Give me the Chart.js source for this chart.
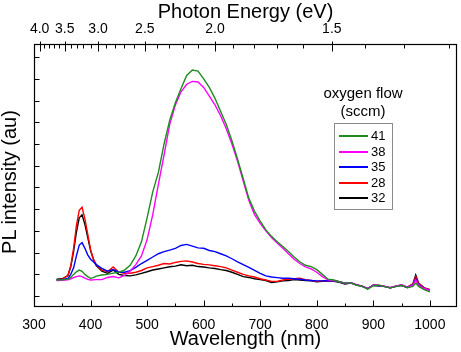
<!DOCTYPE html>
<html>
<head>
<meta charset="utf-8">
<script src="https://cdn.jsdelivr.net/npm/chart.js@4/dist/chart.umd.min.js"></script>
<style>
  body { margin: 0; background: #fff; font-family: 'Liberation Sans', Arial, sans-serif; }
  #wrap { position: relative; width: 461px; height: 352px; }
  #legend { position: absolute; left: 0; top: 0; }
  #ytitle { position: absolute; left: 9px; top: 182px; width: 200px; margin-left: -100px; margin-top: -10px;
    text-align: center; font-size: 20px; line-height: 20px; color: #000; transform: rotate(-90deg); white-space: nowrap; }
  .lg-title { position: absolute; width: 120px; text-align: center; font-size: 15px; color: #000; }
  .lg-box { position: absolute; left: 334px; top: 123px; width: 57px; height: 85px; border: 1px solid #8a8a8a; background: #fff; }
  .lg-row { position: absolute; left: 4px; height: 14px; }
  .lg-line { position: absolute; left: 0; top: 6px; width: 29px; height: 2px; }
  .lg-text { position: absolute; left: 32px; top: -1px; font-size: 13px; color: #000; }
</style>
</head>
<body>
<div id="wrap">
  <canvas id="chart" width="461" height="352"></canvas>
  <div id="ytitle">PL intensity (au)</div>
  <div id="legend"></div>
</div>
<script>
// длины волн (нм)
const wavelengths = [340, 350, 360, 365, 370, 375, 380, 385, 390, 395, 400, 405, 410,
  420, 430, 440, 450, 460, 470, 480, 490, 500, 510, 520, 530, 540, 550, 560, 570, 580, 590,
  600, 610, 620, 630, 640, 650, 660, 670, 680, 690, 700, 710, 720, 730, 740, 750, 760, 770,
  780, 790, 800, 810, 820, 830, 840, 850, 860, 870, 880, 890, 900, 910, 920, 930, 940, 950,
  960, 970, 975, 980, 990, 1000];

// интенсивность ФЛ для каждого потока кислорода (sccm)
const flow41 = [0.74, 0.75, 0.78, 0.86, 1.0, 1.12, 1.2, 1.14, 1.0, 0.9, 0.82, 0.85, 0.92,
  0.97, 1.0, 1.06, 1.1, 1.2, 1.42, 1.85, 2.5, 3.6, 4.8, 5.7, 7.0, 8.1, 8.9, 9.55, 10.15, 10.4, 10.35,
  10.0, 9.6, 9.1, 8.5, 7.9, 7.15, 6.3, 5.4, 4.5, 3.9, 3.45, 3.05, 2.75, 2.5, 2.28, 2.05, 1.8, 1.58,
  1.42, 1.36, 1.22, 1.0, 0.78, 0.74, 0.66, 0.6, 0.62, 0.5, 0.46, 0.32, 0.48, 0.5, 0.44, 0.38, 0.44, 0.5,
  0.38, 0.45, 0.6, 0.45, 0.3, 0.2];
const flow38 = [0.72, 0.73, 0.75, 0.8, 0.85, 0.9, 0.93, 0.9, 0.83, 0.77, 0.74, 0.75, 0.76,
  0.76, 0.86, 0.9, 0.84, 0.95, 1.15, 1.45, 1.85, 2.6, 3.75, 5.15, 6.5, 7.9, 8.8, 9.4, 9.75, 9.88, 9.85,
  9.6, 9.2, 8.8, 8.3, 7.7, 7.0, 6.2, 5.3, 4.4, 3.75, 3.35, 3.0, 2.7, 2.45, 2.2, 1.95, 1.7, 1.5,
  1.35, 1.25, 1.1, 0.9, 0.75, 0.72, 0.67, 0.6, 0.62, 0.52, 0.47, 0.35, 0.5, 0.5, 0.45, 0.4, 0.46, 0.52,
  0.4, 0.5, 0.75, 0.5, 0.35, 0.26];
const flow35 = [0.74, 0.76, 0.82, 1.0, 1.3, 1.85, 2.35, 2.46, 2.2, 1.9, 1.7, 1.58, 1.45,
  1.28, 1.15, 1.22, 1.1, 1.1, 1.17, 1.32, 1.5, 1.65, 1.8, 1.95, 2.05, 2.12, 2.2, 2.33, 2.38, 2.3, 2.22,
  2.2, 2.1, 2.05, 1.95, 1.85, 1.72, 1.58, 1.45, 1.32, 1.18, 1.05, 0.93, 0.88, 0.85, 0.82, 0.82, 0.8, 0.78,
  0.74, 0.72, 0.7, 0.7, 0.72, 0.7, 0.66, 0.58, 0.62, 0.52, 0.46, 0.34, 0.5, 0.48, 0.44, 0.38, 0.45, 0.5,
  0.4, 0.5, 0.8, 0.52, 0.36, 0.27];
const flow28 = [0.74, 0.78, 0.95, 1.4, 2.2, 3.25, 3.95, 4.09, 3.55, 2.85, 2.15, 1.7, 1.45,
  1.2, 1.12, 1.34, 1.1, 1.05, 1.05, 1.1, 1.18, 1.3, 1.36, 1.42, 1.5, 1.48, 1.55, 1.6, 1.62, 1.57, 1.5,
  1.46, 1.44, 1.4, 1.36, 1.3, 1.2, 1.1, 1.0, 0.93, 0.88, 0.8, 0.74, 0.68, 0.68, 0.74, 0.78, 0.8, 0.82,
  0.76, 0.72, 0.68, 0.7, 0.72, 0.7, 0.66, 0.58, 0.62, 0.53, 0.46, 0.35, 0.5, 0.49, 0.45, 0.39, 0.46, 0.51,
  0.41, 0.55, 0.9, 0.58, 0.38, 0.3];
const flow32 = [0.78, 0.8, 0.95, 1.35, 2.05, 2.95, 3.6, 3.74, 3.3, 2.7, 2.1, 1.7, 1.4,
  1.15, 1.05, 1.2, 1.0, 0.95, 0.93, 0.98, 1.05, 1.12, 1.2, 1.25, 1.3, 1.35, 1.38, 1.44, 1.4, 1.42, 1.36,
  1.34, 1.3, 1.27, 1.22, 1.18, 1.1, 1.0, 0.9, 0.86, 0.8, 0.76, 0.72, 0.63, 0.66, 0.7, 0.72, 0.76, 0.74,
  0.72, 0.7, 0.66, 0.68, 0.7, 0.68, 0.64, 0.56, 0.6, 0.52, 0.45, 0.35, 0.5, 0.48, 0.45, 0.38, 0.46, 0.5,
  0.4, 0.56, 0.97, 0.6, 0.38, 0.3];

// подписи осей
const wlTicks = [300, 400, 500, 600, 700, 800, 900, 1000];
const evTicks = [4.0, 3.5, 3.0, 2.5, 2.0, 1.5];
const yTicks = [0, 1, 2, 3, 4, 5, 6, 7, 8, 9, 10, 11];
const HC = 1240; // нм*эВ

const series = [
  { label: '41', data: flow41, color: '#1e8c1e' },
  { label: '38', data: flow38, color: '#ff00ff' },
  { label: '35', data: flow35, color: '#0000ff' },
  { label: '28', data: flow28, color: '#ff0000' },
  { label: '32', data: flow32, color: '#000000' }
];

Chart.defaults.font.family = "'Liberation Sans', Arial, sans-serif";
Chart.defaults.color = '#000';

// рамка и засечки внутрь, как в Origin
const frameTicks = {
  id: 'frameTicks',
  afterDatasetsDraw(chart) {
    const { ctx, chartArea: a, scales } = chart;
    const L = Math.round(a.left) + 0.5, R = Math.round(a.right) - 0.5;
    const T = Math.round(a.top) + 0.5, B = Math.round(a.bottom) - 0.5;
    ctx.save();
    ctx.strokeStyle = '#000';
    ctx.lineWidth = 1.2;
    ctx.strokeRect(L, T, R - L, B - T);
    ctx.lineWidth = 1;
    ctx.beginPath();
    // низ: большие и малые засечки
    for (let v = 300; v <= 1040; v += 50) {
      const x = Math.round(scales.x.getPixelForValue(v)) + 0.5;
      const len = v % 100 === 0 ? 6 : 3;
      ctx.moveTo(x, B); ctx.lineTo(x, B - len);
    }
    // верх: энергия фотона
    for (let e = 40; e >= 12; e--) {
      const x = Math.round(scales.x2.getPixelForValue(HC / (e / 10))) + 0.5;
      if (e % 5 === 0) { ctx.moveTo(x, T - 3); ctx.lineTo(x, T + 7); }
      else { ctx.moveTo(x, T); ctx.lineTo(x, T + 4); }
    }
    // левая ось
    yTicks.forEach(v => {
      const y = Math.round(scales.y.getPixelForValue(v)) + 0.5;
      ctx.moveTo(L, y); ctx.lineTo(L + 5, y);
    });
    ctx.stroke();
    ctx.restore();
  }
};

new Chart(document.getElementById('chart'), {
  type: 'line',
  data: {
    datasets: series.map(s => ({
      label: s.label,
      data: s.data.map((v, i) => ({ x: wavelengths[i], y: v })),
      borderColor: s.color,
      borderWidth: 1.4,
      pointRadius: 0,
      tension: 0,
      fill: false
    }))
  },
  options: {
    responsive: false,
    animation: false,
    devicePixelRatio: 1,
    layout: { padding: { left: 0, right: 4, top: 0, bottom: 0 } },
    plugins: { legend: { display: false }, tooltip: { enabled: false } },
    scales: {
      x: {
        type: 'linear', position: 'bottom', min: 300, max: 1048,
        grid: { display: false, drawTicks: false }, border: { display: false },
        afterBuildTicks: s => { s.ticks = wlTicks.map(v => ({ value: v })); },
        ticks: { font: { size: 14 }, padding: 10, maxRotation: 0, autoSkip: false,
          callback: v => String(v) },
        title: { display: true, text: 'Wavelength (nm)', font: { size: 20, lineHeight: 1 }, padding: { top: 0, bottom: 3 } },
        afterFit: s => { s.height = 45; }
      },
      x2: {
        type: 'linear', position: 'top', min: 300, max: 1048,
        grid: { display: false, drawTicks: false }, border: { display: false },
        afterBuildTicks: s => { s.ticks = evTicks.map(e => ({ value: HC / e })); },
        ticks: { font: { size: 14 }, padding: 6, maxRotation: 0, autoSkip: false,
          callback: v => (HC / v).toFixed(1) },
        title: { display: true, text: 'Photon Energy (eV)', font: { size: 20, lineHeight: 1 }, padding: { top: 2, bottom: 0 } },
        afterFit: s => { s.height = 44; }
      },
      y: {
        min: -0.5, max: 11.6,
        grid: { display: false, drawTicks: false }, border: { display: false },
        afterBuildTicks: s => { s.ticks = yTicks.map(v => ({ value: v })); },
        ticks: { display: false },
        title: { display: false },
        afterFit: s => { s.width = 34; }
      }
    }
  },
  plugins: [frameTicks]
});

// легенда
const lg = document.getElementById('legend');
let html = '<div class="lg-title" style="left:303px;top:84px">oxygen flow</div>' +
           '<div class="lg-title" style="left:303px;top:102px">(sccm)</div>' +
           '<div class="lg-box">';
series.forEach((s, i) => {
  html += `<div class="lg-row" style="top:${5 + i * 15.6}px">
      <div class="lg-line" style="background:${s.color}"></div>
      <div class="lg-text">${s.label}</div></div>`;
});
lg.innerHTML = html + '</div>';
</script>
</body>
</html>
